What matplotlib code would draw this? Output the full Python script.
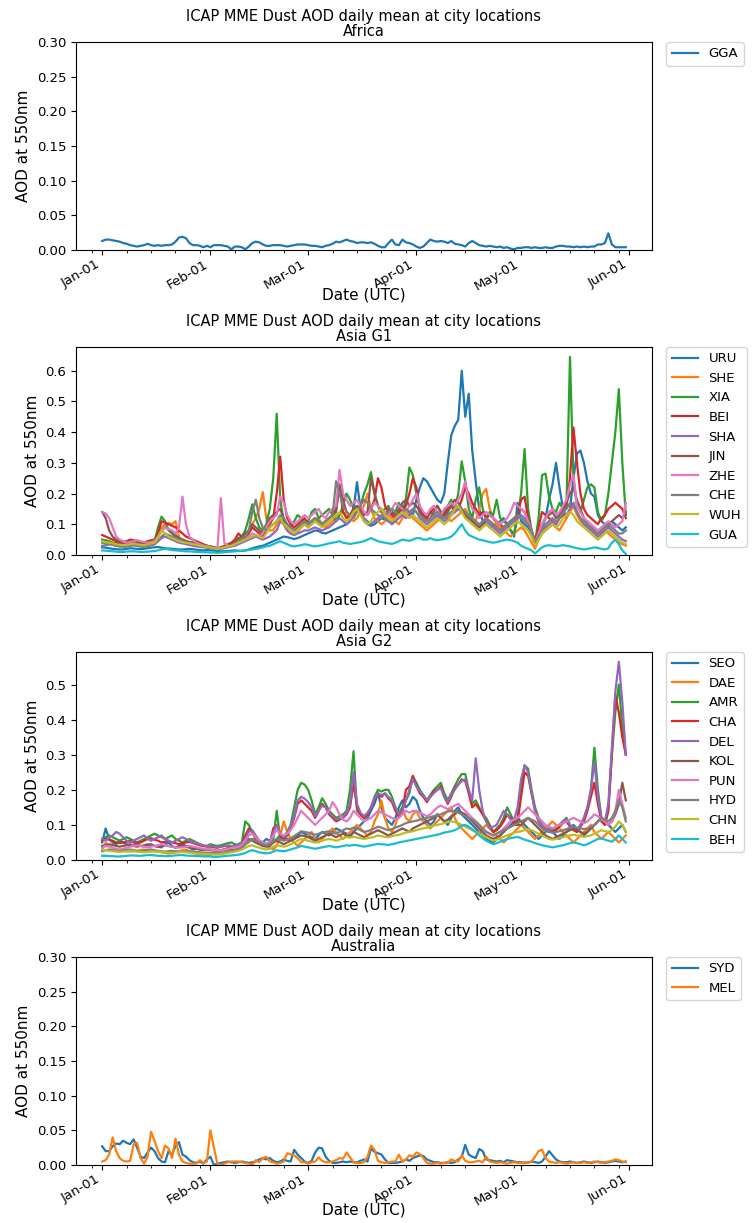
import numpy as np
import pandas as pd
import matplotlib
matplotlib.use('Agg')
import matplotlib.pyplot as plt
import matplotlib.dates as mdates

dates = pd.date_range('2023-01-01', '2023-05-31', freq='D')

# Daily mean dust AOD at 550nm per city, stored in units of 0.001
# (one row per month: Jan, Feb, Mar, Apr, May)

# Africa
gga = [13, 15, 15, 14, 13, 12, 10, 9, 7, 6, 5, 6, 7, 9, 7, 6, 7, 6, 7, 7, 8, 12, 18, 19, 17, 10, 7, 7, 6, 4, 6,
       4, 7, 7, 7, 6, 5, 1, 5, 5, 4, 1, 5, 10, 12, 11, 8, 6, 6, 7, 7, 7, 6, 5, 6, 7, 8, 8, 8,
       7, 6, 6, 5, 4, 6, 7, 9, 12, 11, 13, 15, 13, 12, 10, 11, 11, 10, 11, 9, 6, 4, 4, 10, 15, 8, 7, 15, 11, 10, 8,
       5, 3, 5, 10, 15, 13, 12, 13, 12, 10, 13, 9, 8, 7, 5, 10, 13, 10, 7, 6, 5, 6, 5, 4, 5, 3, 4, 2, 1, 3,
       3, 4, 4, 3, 4, 3, 3, 4, 3, 3, 5, 6, 6, 5, 5, 4, 5, 4, 5, 4, 5, 5, 8, 8, 10, 24, 8, 4, 4, 4, 4]

# Asia G1
uru = [25, 24, 22, 20, 19, 18, 18, 20, 22, 21, 20, 19, 20, 22, 24, 25, 26, 24, 22, 21, 20, 19, 18, 18, 19, 20, 19, 17, 16, 15, 16,
       15, 14, 13, 12, 12, 13, 14, 15, 14, 13, 15, 18, 22, 25, 28, 30, 35, 40, 45, 50, 55, 60, 58, 55, 52, 55, 60, 65,
       70, 75, 80, 78, 72, 70, 75, 80, 85, 90, 95, 100, 110, 150, 237, 150, 110, 100, 95, 100, 110, 120, 115, 110, 105, 120, 140, 160, 150, 140, 130,
       180, 220, 250, 240, 220, 200, 180, 170, 200, 300, 390, 420, 440, 600, 450, 525, 340, 240, 150, 110, 100, 90, 95, 100, 110, 120, 100, 80, 60, 170,
       110, 100, 90, 70, 30, 50, 90, 120, 180, 230, 300, 220, 150, 120, 150, 250, 330, 340, 300, 240, 200, 190, 130, 110, 100, 90, 110, 100, 90, 80, 90]
she = [50, 45, 42, 40, 38, 36, 35, 36, 38, 40, 38, 36, 35, 38, 40, 45, 60, 90, 100, 105, 100, 110, 60, 45, 40, 38, 35, 33, 30, 28, 27,
       25, 22, 20, 22, 25, 28, 30, 35, 40, 50, 60, 80, 100, 120, 150, 205, 120, 80, 80, 100, 120, 100, 80, 70, 65, 75, 90, 100,
       90, 100, 110, 120, 100, 90, 100, 110, 120, 130, 140, 130, 120, 110, 120, 140, 160, 200, 150, 120, 110, 100, 110, 130, 120, 110, 100, 120, 140, 130, 120,
       110, 100, 90, 80, 90, 100, 110, 120, 130, 120, 110, 120, 130, 140, 150, 130, 120, 110, 150, 200, 215, 150, 120, 100, 90, 80, 70, 60, 70, 80,
       90, 80, 60, 40, 20, 50, 70, 80, 90, 100, 90, 80, 100, 120, 140, 160, 130, 110, 100, 90, 80, 70, 60, 70, 80, 70, 60, 50, 40, 35, 30]
xia = [50, 48, 45, 40, 38, 35, 33, 35, 38, 36, 34, 32, 35, 38, 40, 45, 90, 125, 110, 80, 70, 60, 55, 50, 45, 42, 40, 38, 35, 33, 30,
       25, 22, 20, 22, 25, 28, 30, 40, 50, 60, 80, 120, 165, 120, 90, 80, 100, 150, 250, 460, 180, 110, 100, 90, 110, 130, 120, 100,
       110, 140, 150, 120, 130, 140, 150, 130, 110, 130, 160, 200, 180, 150, 140, 160, 200, 230, 270, 200, 160, 140, 150, 160, 130, 140, 170, 140, 180, 285, 260,
       200, 150, 130, 120, 140, 130, 120, 130, 140, 160, 180, 150, 200, 305, 240, 150, 120, 180, 220, 150, 120, 140, 130, 180, 120, 110, 100, 80, 70, 120,
       200, 345, 150, 80, 40, 120, 260, 265, 190, 150, 140, 170, 150, 160, 645, 250, 160, 140, 180, 220, 230, 220, 140, 110, 130, 200, 300, 400, 540, 300, 130]
bei = [65, 60, 55, 50, 45, 40, 42, 45, 50, 48, 45, 42, 40, 45, 48, 50, 70, 110, 105, 100, 95, 90, 80, 70, 60, 55, 50, 45, 40, 35, 30,
       28, 25, 22, 25, 30, 35, 40, 50, 70, 60, 55, 70, 90, 80, 70, 60, 80, 100, 120, 200, 320, 180, 120, 100, 90, 100, 110, 120,
       100, 110, 120, 110, 100, 110, 120, 130, 150, 220, 140, 120, 130, 150, 160, 150, 140, 130, 150, 180, 250, 220, 160, 140, 130, 120, 140, 150, 160, 200, 250,
       220, 150, 130, 120, 140, 150, 160, 140, 130, 150, 160, 140, 150, 180, 220, 200, 170, 150, 130, 140, 120, 130, 120, 110, 100, 90, 100, 110, 120, 130,
       180, 190, 120, 80, 40, 90, 140, 130, 120, 110, 100, 120, 130, 160, 250, 415, 300, 200, 150, 130, 120, 110, 100, 120, 130, 150, 160, 170, 160, 150, 120]
sha = [30, 32, 35, 33, 30, 28, 27, 28, 30, 32, 30, 28, 27, 30, 32, 35, 45, 55, 60, 55, 50, 45, 40, 38, 35, 33, 30, 28, 26, 25, 24,
       22, 20, 18, 20, 22, 25, 28, 30, 35, 40, 45, 50, 55, 60, 55, 50, 55, 60, 70, 80, 110, 100, 80, 70, 65, 70, 75, 80,
       80, 85, 90, 85, 80, 85, 90, 100, 110, 120, 110, 100, 110, 130, 150, 140, 120, 110, 100, 110, 120, 130, 120, 110, 100, 110, 120, 130, 120, 130, 150,
       140, 120, 110, 100, 110, 120, 130, 120, 110, 120, 130, 140, 150, 140, 130, 120, 110, 100, 90, 100, 110, 100, 90, 80, 70, 80, 90, 100, 110, 120,
       130, 120, 100, 80, 40, 60, 80, 90, 100, 110, 100, 120, 140, 130, 150, 170, 140, 120, 100, 90, 80, 70, 60, 70, 80, 90, 80, 70, 60, 50, 45]
jin = [140, 120, 80, 60, 50, 45, 40, 38, 40, 42, 40, 38, 36, 38, 40, 45, 60, 80, 90, 85, 75, 65, 55, 50, 45, 42, 40, 38, 35, 33, 30,
       28, 25, 22, 24, 26, 30, 35, 40, 55, 60, 70, 80, 100, 90, 80, 70, 90, 120, 130, 140, 150, 120, 100, 90, 80, 90, 100, 110,
       100, 110, 120, 110, 100, 110, 120, 130, 140, 230, 180, 140, 130, 150, 160, 140, 130, 140, 250, 200, 160, 140, 130, 150, 140, 130, 150, 170, 180, 160, 170,
       160, 140, 120, 110, 120, 140, 160, 140, 120, 140, 160, 180, 170, 150, 130, 120, 110, 100, 90, 100, 120, 110, 100, 90, 80, 90, 100, 110, 120, 130,
       150, 140, 110, 80, 40, 70, 100, 120, 130, 140, 120, 130, 150, 170, 200, 220, 180, 150, 120, 100, 90, 80, 70, 80, 90, 100, 110, 120, 130, 120, 140]
zhe = [140, 135, 120, 90, 60, 50, 45, 40, 42, 45, 48, 45, 42, 40, 42, 45, 60, 80, 90, 85, 80, 70, 90, 190, 100, 60, 50, 40, 35, 30, 28,
       25, 22, 20, 185, 40, 30, 28, 35, 40, 45, 50, 60, 70, 65, 60, 70, 90, 110, 120, 130, 190, 170, 130, 110, 100, 110, 120, 130,
       120, 130, 140, 150, 130, 120, 140, 150, 160, 277, 200, 180, 160, 170, 180, 160, 140, 130, 150, 170, 160, 150, 140, 130, 150, 170, 160, 150, 140, 160, 180,
       200, 160, 140, 130, 150, 160, 140, 130, 150, 160, 170, 160, 180, 200, 240, 180, 150, 140, 120, 130, 140, 130, 120, 110, 100, 110, 120, 140, 170, 160,
       150, 140, 110, 80, 40, 70, 100, 120, 140, 150, 130, 140, 160, 180, 230, 260, 160, 140, 120, 110, 100, 90, 80, 90, 100, 110, 100, 90, 100, 110, 170]
che = [40, 38, 35, 33, 30, 28, 27, 28, 30, 32, 30, 28, 27, 30, 32, 35, 45, 60, 70, 65, 60, 55, 50, 45, 40, 38, 35, 33, 30, 28, 27,
       25, 22, 20, 22, 25, 28, 30, 35, 45, 50, 60, 80, 140, 180, 120, 90, 80, 90, 100, 110, 130, 120, 100, 90, 80, 90, 100, 110,
       100, 110, 120, 110, 100, 110, 120, 130, 240, 200, 160, 140, 130, 120, 140, 160, 180, 170, 150, 140, 130, 120, 130, 140, 150, 140, 130, 140, 150, 140, 150,
       140, 130, 120, 110, 120, 130, 140, 130, 120, 130, 140, 150, 160, 150, 140, 130, 120, 110, 100, 110, 120, 110, 100, 90, 80, 90, 100, 110, 120, 130,
       120, 110, 100, 80, 40, 60, 80, 100, 110, 120, 110, 120, 140, 150, 170, 160, 140, 120, 110, 100, 90, 80, 70, 80, 90, 100, 90, 80, 70, 70, 80]
wuh = [45, 42, 40, 38, 35, 33, 32, 33, 35, 37, 35, 33, 32, 35, 38, 40, 55, 80, 70, 60, 55, 50, 45, 42, 40, 38, 35, 33, 30, 28, 27,
       25, 22, 20, 22, 25, 28, 30, 35, 40, 45, 50, 55, 60, 65, 60, 55, 70, 90, 100, 110, 120, 100, 90, 80, 70, 80, 90, 100,
       90, 100, 110, 100, 90, 100, 110, 120, 130, 140, 120, 110, 120, 140, 150, 130, 110, 100, 110, 130, 140, 150, 130, 120, 110, 120, 130, 140, 130, 120, 130,
       120, 110, 100, 90, 100, 110, 120, 110, 100, 110, 130, 150, 160, 140, 120, 110, 100, 90, 80, 90, 100, 90, 80, 70, 60, 70, 80, 90, 100, 110,
       100, 90, 80, 60, 30, 50, 70, 80, 90, 100, 90, 100, 120, 130, 140, 130, 110, 100, 90, 80, 70, 60, 50, 60, 70, 80, 70, 60, 50, 40, 35]
gua = [15, 14, 13, 12, 11, 10, 10, 11, 12, 12, 11, 10, 10, 11, 12, 13, 15, 18, 20, 18, 16, 15, 14, 13, 12, 12, 11, 10, 10, 9, 9,
       8, 8, 7, 8, 9, 10, 11, 12, 13, 14, 15, 16, 18, 20, 22, 25, 28, 30, 35, 40, 45, 40, 35, 30, 28, 30, 32, 35,
       33, 30, 28, 30, 32, 35, 38, 40, 42, 45, 40, 38, 36, 38, 40, 42, 45, 50, 55, 50, 45, 42, 40, 38, 36, 40, 45, 50, 48, 46, 50,
       55, 55, 50, 50, 55, 50, 48, 50, 52, 55, 60, 70, 85, 100, 80, 65, 60, 55, 50, 48, 45, 42, 40, 42, 45, 48, 50, 48, 45, 40,
       30, 25, 20, 15, 5, 15, 25, 30, 32, 30, 28, 30, 32, 30, 28, 25, 22, 20, 18, 20, 22, 25, 23, 20, 18, 22, 40, 50, 35, 15, 3]

# Asia G2
seo = [50, 90, 60, 50, 45, 55, 50, 45, 40, 42, 45, 40, 38, 42, 45, 40, 38, 36, 45, 50, 40, 35, 40, 45, 40, 35, 30, 32, 30, 28, 30,
       30, 28, 25, 28, 30, 32, 35, 40, 45, 50, 55, 60, 55, 50, 45, 50, 60, 55, 50, 60, 70, 65, 60, 55, 60, 70, 80, 75,
       70, 65, 60, 70, 80, 75, 70, 80, 90, 85, 80, 75, 70, 80, 90, 100, 110, 120, 140, 160, 190, 150, 120, 110, 100, 120, 150, 170, 150, 160, 180,
       170, 140, 120, 110, 100, 110, 130, 120, 110, 100, 120, 140, 150, 130, 120, 110, 100, 90, 80, 70, 60, 55, 50, 60, 70, 80, 90, 100, 110, 120,
       110, 100, 90, 80, 70, 60, 70, 80, 90, 80, 70, 60, 70, 80, 90, 100, 90, 80, 70, 80, 90, 100, 110, 120, 110, 100, 90, 80, 90, 100, 80]
dae = [30, 50, 40, 35, 30, 28, 26, 25, 24, 25, 26, 28, 30, 28, 26, 25, 24, 22, 20, 18, 20, 22, 25, 28, 30, 25, 20, 18, 16, 15, 14,
       15, 18, 20, 25, 30, 28, 25, 30, 35, 40, 45, 50, 60, 55, 50, 45, 40, 35, 30, 40, 70, 110, 80, 60, 50, 40, 50, 60,
       70, 80, 60, 50, 60, 70, 80, 90, 80, 70, 60, 70, 80, 90, 100, 90, 80, 70, 80, 110, 130, 170, 120, 90, 80, 100, 130, 150, 120, 110, 130,
       140, 120, 110, 100, 90, 100, 110, 120, 130, 140, 150, 120, 100, 90, 80, 70, 60, 70, 80, 90, 100, 90, 80, 70, 60, 50, 60, 70, 80, 90,
       100, 90, 80, 70, 60, 70, 80, 90, 100, 110, 100, 90, 80, 70, 60, 50, 60, 70, 80, 90, 100, 80, 70, 60, 70, 80, 70, 60, 50, 60, 70]
amr = [60, 65, 70, 65, 60, 55, 60, 65, 60, 55, 50, 55, 60, 65, 70, 75, 70, 65, 60, 65, 70, 60, 55, 50, 55, 60, 55, 50, 45, 40, 40,
       45, 42, 40, 42, 45, 48, 50, 45, 42, 50, 110, 100, 80, 60, 55, 50, 45, 42, 60, 140, 60, 65, 80, 100, 150, 200, 220, 215,
       200, 170, 130, 150, 176, 160, 140, 130, 120, 125, 130, 140, 200, 310, 140, 130, 120, 130, 150, 180, 200, 195, 200, 200, 180, 150, 133, 150, 170, 190, 238,
       220, 200, 185, 170, 185, 200, 210, 220, 190, 170, 190, 210, 230, 245, 245, 200, 160, 170, 150, 130, 120, 100, 80, 90, 100, 120, 150, 130, 110, 120,
       200, 270, 260, 200, 150, 120, 100, 90, 80, 85, 90, 100, 110, 120, 100, 90, 80, 100, 120, 150, 200, 320, 200, 120, 100, 150, 300, 420, 500, 380, 300]
cha = [55, 60, 58, 55, 50, 48, 50, 52, 55, 50, 48, 50, 55, 60, 62, 58, 55, 50, 52, 55, 50, 48, 45, 48, 50, 52, 48, 45, 42, 40, 38,
       38, 36, 35, 38, 40, 38, 36, 38, 40, 45, 70, 90, 80, 60, 50, 45, 40, 45, 90, 100, 70, 60, 70, 90, 120, 160, 170, 160,
       150, 140, 120, 140, 160, 150, 130, 120, 110, 115, 120, 130, 150, 220, 150, 130, 120, 130, 150, 170, 190, 180, 190, 175, 165, 140, 125, 140, 200, 210, 240,
       210, 190, 180, 165, 180, 195, 200, 210, 180, 160, 180, 205, 215, 230, 225, 190, 150, 160, 145, 130, 110, 95, 80, 85, 95, 110, 130, 120, 105, 110,
       180, 250, 240, 190, 140, 110, 95, 85, 80, 80, 85, 95, 105, 110, 95, 85, 80, 95, 110, 140, 180, 220, 160, 110, 100, 140, 300, 470, 420, 350, 300]
dl = [60, 55, 65, 70, 80, 75, 65, 55, 50, 55, 60, 65, 70, 60, 55, 60, 65, 70, 60, 55, 50, 55, 60, 65, 60, 55, 50, 48, 45, 42, 40,
      40, 38, 36, 38, 40, 42, 40, 38, 42, 48, 60, 80, 85, 70, 55, 48, 45, 50, 80, 100, 75, 65, 75, 95, 125, 170, 180, 175,
      165, 150, 125, 140, 155, 150, 135, 125, 115, 118, 122, 135, 160, 250, 160, 135, 125, 135, 150, 175, 190, 185, 190, 180, 170, 150, 130, 140, 170, 200, 230,
      210, 195, 185, 170, 180, 190, 200, 205, 180, 165, 185, 200, 215, 225, 230, 200, 170, 290, 200, 140, 110, 90, 95, 100, 120, 140, 130, 115, 115, 150,
      230, 270, 250, 190, 140, 110, 100, 90, 85, 90, 95, 100, 110, 115, 100, 90, 85, 100, 120, 150, 200, 280, 180, 120, 110, 160, 320, 480, 565, 450, 300]
kol = [40, 42, 45, 43, 40, 38, 40, 42, 45, 40, 38, 40, 42, 45, 43, 40, 38, 40, 42, 40, 38, 36, 38, 40, 38, 36, 34, 32, 30, 30, 28,
       28, 27, 26, 28, 30, 32, 30, 28, 30, 35, 45, 55, 60, 50, 45, 40, 38, 40, 50, 55, 50, 45, 50, 55, 60, 65, 70, 68,
       65, 60, 55, 60, 65, 70, 75, 70, 65, 70, 75, 70, 65, 80, 75, 70, 65, 70, 75, 80, 85, 80, 75, 70, 75, 80, 85, 90, 85, 80, 90,
       95, 100, 105, 110, 115, 120, 130, 120, 110, 115, 125, 130, 140, 135, 130, 120, 110, 100, 90, 80, 70, 65, 60, 65, 70, 80, 90, 95, 100, 100,
       100, 110, 120, 110, 100, 90, 80, 70, 65, 60, 65, 70, 75, 80, 85, 90, 85, 80, 75, 80, 90, 100, 110, 120, 110, 100, 110, 130, 160, 220, 170]
pun = [35, 40, 38, 35, 32, 30, 32, 35, 38, 40, 42, 40, 38, 36, 38, 40, 42, 45, 43, 40, 38, 36, 35, 36, 38, 40, 38, 36, 34, 32, 30,
       30, 28, 27, 28, 30, 32, 34, 36, 38, 42, 55, 70, 75, 65, 55, 50, 48, 50, 70, 85, 75, 70, 75, 85, 100, 120, 140, 130,
       120, 110, 100, 110, 120, 130, 140, 165, 150, 130, 115, 110, 120, 140, 130, 120, 110, 115, 120, 130, 140, 135, 130, 125, 120, 115, 120, 130, 140, 135, 140,
       140, 135, 130, 125, 130, 140, 150, 155, 150, 145, 150, 155, 160, 150, 140, 130, 120, 110, 100, 90, 80, 75, 70, 75, 80, 90, 100, 110, 115, 120,
       130, 140, 150, 140, 130, 120, 110, 100, 95, 90, 95, 100, 105, 110, 115, 120, 115, 110, 105, 110, 120, 130, 125, 115, 110, 100, 110, 140, 200, 160, 120]
hyd = [25, 28, 30, 28, 26, 25, 27, 29, 30, 28, 26, 25, 27, 29, 30, 28, 26, 25, 24, 25, 26, 25, 24, 23, 24, 25, 24, 23, 22, 21, 20,
       20, 20, 19, 20, 22, 24, 26, 28, 30, 35, 45, 55, 60, 55, 50, 45, 42, 45, 55, 60, 58, 55, 58, 62, 68, 75, 82, 80,
       78, 75, 72, 75, 78, 80, 82, 78, 75, 80, 85, 90, 88, 92, 90, 85, 80, 82, 86, 90, 95, 92, 88, 85, 88, 92, 96, 100, 105, 108, 110,
       112, 115, 118, 120, 122, 125, 128, 130, 135, 138, 140, 138, 135, 130, 125, 120, 115, 110, 100, 90, 80, 75, 70, 75, 80, 85, 90, 95, 100, 105,
       110, 115, 120, 115, 110, 100, 90, 85, 80, 78, 80, 82, 85, 88, 92, 95, 92, 90, 88, 90, 95, 100, 110, 120, 115, 110, 120, 140, 170, 150, 110]
chn = [30, 28, 26, 25, 24, 23, 24, 25, 26, 25, 24, 23, 22, 23, 24, 25, 24, 23, 22, 21, 20, 21, 22, 23, 22, 21, 20, 19, 18, 18, 17,
       17, 16, 16, 17, 18, 20, 22, 24, 26, 30, 35, 40, 42, 38, 35, 32, 30, 32, 38, 42, 40, 38, 40, 45, 50, 55, 60, 58,
       55, 52, 50, 52, 55, 58, 60, 58, 55, 58, 62, 65, 64, 66, 64, 62, 60, 62, 64, 66, 70, 68, 66, 65, 68, 70, 72, 75, 78, 80, 82,
       85, 88, 90, 92, 95, 98, 100, 102, 105, 108, 110, 108, 105, 100, 95, 90, 85, 80, 75, 70, 65, 60, 55, 58, 62, 66, 70, 74, 78, 80,
       82, 85, 88, 85, 80, 75, 70, 65, 60, 58, 60, 62, 65, 68, 70, 72, 70, 68, 66, 68, 70, 75, 80, 85, 82, 80, 85, 95, 110, 100, 80]
beh = [12, 12, 11, 11, 10, 10, 11, 12, 13, 13, 12, 12, 13, 14, 14, 13, 12, 12, 11, 11, 12, 13, 14, 14, 13, 12, 12, 11, 11, 10, 10,
       10, 9, 9, 10, 11, 12, 13, 14, 15, 17, 20, 25, 28, 25, 22, 20, 19, 20, 24, 28, 26, 25, 27, 30, 33, 36, 40, 38,
       36, 34, 32, 34, 36, 38, 40, 38, 36, 38, 40, 42, 41, 43, 42, 40, 38, 40, 42, 44, 46, 45, 44, 43, 45, 47, 50, 52, 54, 56, 58,
       60, 62, 64, 66, 68, 70, 72, 75, 78, 80, 82, 85, 90, 98, 100, 95, 88, 80, 70, 62, 55, 50, 45, 48, 52, 56, 60, 62, 64, 66,
       62, 58, 55, 52, 48, 45, 42, 40, 38, 36, 38, 40, 42, 45, 48, 50, 48, 45, 42, 45, 50, 55, 60, 62, 58, 55, 52, 60, 70, 60, 50]

# Australia
syd = [27, 20, 20, 27, 31, 30, 35, 32, 30, 37, 25, 12, 10, 18, 25, 20, 10, 5, 4, 20, 15, 27, 33, 15, 12, 7, 4, 3, 5, 2, 8,
       12, 0, 2, 3, 4, 5, 4, 3, 4, 5, 4, 3, 4, 5, 8, 10, 8, 10, 6, 4, 5, 8, 6, 5, 22, 15, 10, 5,
       3, 6, 18, 25, 24, 12, 6, 3, 3, 4, 5, 4, 5, 4, 4, 6, 8, 5, 24, 19, 17, 15, 8, 3, 3, 3, 4, 5, 8, 6, 10,
       12, 14, 13, 8, 6, 4, 4, 3, 3, 4, 3, 4, 8, 12, 29, 15, 12, 10, 23, 20, 8, 7, 6, 5, 6, 4, 7, 6, 5, 4,
       4, 3, 4, 5, 4, 3, 5, 12, 20, 14, 8, 5, 4, 4, 5, 4, 3, 4, 5, 4, 3, 4, 5, 4, 3, 4, 5, 6, 5, 4, 5]
mel = [5, 7, 15, 40, 20, 10, 6, 5, 6, 30, 32, 10, 2, 12, 48, 35, 20, 10, 28, 24, 10, 38, 15, 5, 3, 2, 2, 2, 7, 3, 5,
       50, 25, 2, 0, 2, 4, 5, 5, 5, 4, 3, 2, 0, 7, 4, 10, 12, 5, 4, 2, 3, 5, 17, 15, 14, 10, 4, 4,
       2, 4, 5, 11, 6, 4, 4, 5, 7, 10, 9, 18, 11, 4, 3, 3, 4, 12, 28, 22, 6, 4, 3, 4, 5, 5, 15, 5, 8, 14, 12,
       18, 16, 10, 3, 2, 2, 3, 2, 3, 3, 8, 6, 5, 14, 6, 4, 4, 5, 6, 4, 12, 5, 4, 3, 4, 3, 2, 3, 4, 3,
       3, 4, 3, 5, 12, 20, 22, 10, 5, 4, 3, 4, 3, 2, 3, 4, 3, 3, 4, 3, 4, 5, 4, 3, 4, 5, 6, 8, 7, 5, 4]

regions = ['Africa', 'Asia G1', 'Asia G2', 'Australia']
region_cities = [
    [('GGA', gga)],
    [('URU', uru), ('SHE', she), ('XIA', xia), ('BEI', bei), ('SHA', sha),
     ('JIN', jin), ('ZHE', zhe), ('CHE', che), ('WUH', wuh), ('GUA', gua)],
    [('SEO', seo), ('DAE', dae), ('AMR', amr), ('CHA', cha), ('DEL', dl),
     ('KOL', kol), ('PUN', pun), ('HYD', hyd), ('CHN', chn), ('BEH', beh)],
    [('SYD', syd), ('MEL', mel)],
]
fixed_ylim = {'Africa': (0, 0.3), 'Australia': (0, 0.3)}

fig = plt.figure(figsize=(7.52, 12.23), dpi=100)
W, H = 752, 1223

for i, (region, cities) in enumerate(zip(regions, region_cities)):
    top = 42 + 305 * i
    ax = fig.add_axes([76 / W, 1 - (top + 208) / H, 576 / W, 208 / H])
    for name, vals in cities:
        assert len(vals) == len(dates), (name, len(vals))
        ax.plot(dates, np.array(vals) / 1000.0, label=name, lw=1.6)

    if region in fixed_ylim:
        ax.set_ylim(*fixed_ylim[region])
    else:
        ax.set_ylim(bottom=0)

    ax.xaxis.set_major_locator(mdates.MonthLocator())
    ax.xaxis.set_major_formatter(mdates.DateFormatter('%b-%d'))
    ax.xaxis.set_minor_locator(mdates.DayLocator(bymonthday=[8, 15, 22, 29]))
    ax.tick_params(axis='both', labelsize=9.5)
    ax.tick_params(axis='x', pad=2)
    for lab in ax.get_xticklabels():
        lab.set_rotation(30)
        lab.set_ha('right')

    ax.set_title('ICAP MME Dust AOD daily mean at city locations\n' + region,
                 fontsize=10.5, linespacing=1.0, pad=4)
    ax.set_xlabel('Date (UTC)', fontsize=11)
    ax.xaxis.set_label_coords(0.5, -0.18)
    ax.set_ylabel('AOD at 550nm', fontsize=11)
    ax.legend(loc='upper left', bbox_to_anchor=(1.025, 1.0), borderaxespad=0, fontsize=9.5)

fig.savefig('out.png', dpi=100)
